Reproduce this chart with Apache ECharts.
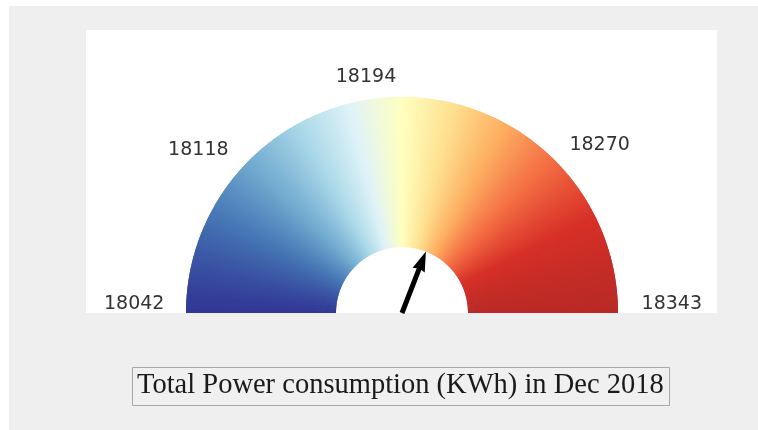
<!DOCTYPE html>
<html>
<head>
<meta charset="utf-8">
<script src="https://cdn.jsdelivr.net/npm/echarts@6/dist/echarts.min.js"></script>
<style>
  html, body { margin: 0; padding: 0; background: #fff; }
  #chart { width: 758px; height: 430px; }
</style>
</head>
<body>
<div id="chart"></div>
<script>
// gauge data
const minValue = 18042
const maxValue = 18343
const tickLabels = ['18042', '18118', '18194', '18270', '18343']
const currentValue = 18228
const titleText = 'Total Power consumption (KWh) in Dec 2018'

// RdYlBu, blue -> red
const palette = ['#313695', '#4575b4', '#74add1', '#abd9e9', '#e0f3f8', '#ffffbf',
  '#fee090', '#fdae61', '#f46d43', '#d73027', '#b92a26']

const hexToRgb = (h) => [1, 3, 5].map(i => parseInt(h.slice(i, i + 2), 16))
const colorAt = (t) => {
  const pos = t * (palette.length - 1)
  const i = Math.min(Math.floor(pos), palette.length - 2)
  const f = pos - i
  const a = hexToRgb(palette[i])
  const b = hexToRgb(palette[i + 1])
  const c = a.map((v, k) => Math.round(v + (b[k] - v) * f))
  return 'rgb(' + c.join(',') + ')'
}
// colour: half angle, half horizontal position on the dial
const shade = (frac) => {
  const f = Math.min(frac, 1)
  return colorAt(0.5 * f + 0.5 * (1 - Math.cos(Math.PI * f)) / 2)
}

// second set is offset by half a step and sits underneath
// so the antialiased seams between wedges don't show
const steps = 180
const makeBands = (shift) => {
  const out = []
  for (let i = 0; i < steps; i++) {
    const end = Math.min((i + 1 + shift) / steps, 1)
    out.push([end, shade((i + 0.5 + shift) / steps)])
  }
  out.push([1, shade(1)])
  return out
}

const labelFont = { fontFamily: 'DejaVu Sans', fontSize: 19, color: '#333' }

const baseGauge = {
  type: 'gauge',
  center: [402, 313],
  radius: 216,
  startAngle: 180,
  endAngle: 0,
  min: minValue,
  max: maxValue,
  splitNumber: 4,
  splitLine: { show: false, length: 0, distance: 0 },
  axisTick: { show: false },
  anchor: { show: false },
  title: { show: false },
  detail: { show: false }
}

const myChart = echarts.init(document.getElementById('chart'))
myChart.setOption({
  animation: false,
  backgroundColor: '#efefef',
  graphic: [
    { type: 'rect', z: -10, shape: { x: 0, y: 0, width: 758, height: 6 }, style: { fill: '#fff' } },
    { type: 'rect', z: -10, shape: { x: 0, y: 0, width: 9, height: 430 }, style: { fill: '#fff' } },
    { type: 'rect', z: -10, shape: { x: 86, y: 30, width: 631, height: 283 }, style: { fill: '#fff' } }
  ],
  title: {
    text: titleText,
    left: 132,
    top: 368,
    padding: [4, 6, 5, 5],
    borderWidth: 1,
    borderColor: '#a8a8a8',
    backgroundColor: '#f0f0f0',
    textStyle: {
      fontFamily: 'Liberation Serif',
      fontWeight: 'normal',
      fontSize: 28.5,
      lineHeight: 28,
      color: '#1a1a1a'
    }
  },
  series: [
    Object.assign({}, baseGauge, {
      z: 1,
      axisLine: { lineStyle: { width: 150, color: makeBands(0.5) } },
      axisLabel: { show: false },
      pointer: { show: false },
      data: [{ value: currentValue }]
    }),
    Object.assign({}, baseGauge, {
      z: 2,
      axisLine: { lineStyle: { width: 150, color: makeBands(0) } },
      axisLabel: {
        distance: -119,
        formatter: (v) => {
          const idx = Math.round((v - minValue) / (maxValue - minValue) * 4)
          return '{t' + idx + '|' + tickLabels[idx] + '}'
        },
        rich: {
          t0: Object.assign({ padding: [0, 0, 18, 37] }, labelFont),
          t1: Object.assign({ padding: [148, 0, 0, 3] }, labelFont),
          t2: Object.assign({ padding: [90, 72, 0, 0] }, labelFont),
          t3: Object.assign({ padding: [138, 9, 0, 0] }, labelFont),
          t4: Object.assign({ padding: [0, 35, 18, 0] }, labelFont)
        }
      },
      pointer: {
        icon: 'path://M4,66 L9,66 L9,19 L13,20 L6.5,0 L0,20 L4,19 Z',
        length: 66,
        width: 13,
        offsetCenter: [0, 0],
        itemStyle: { color: '#000' }
      },
      data: [{ value: currentValue }]
    })
  ]
})
</script>
</body>
</html>
